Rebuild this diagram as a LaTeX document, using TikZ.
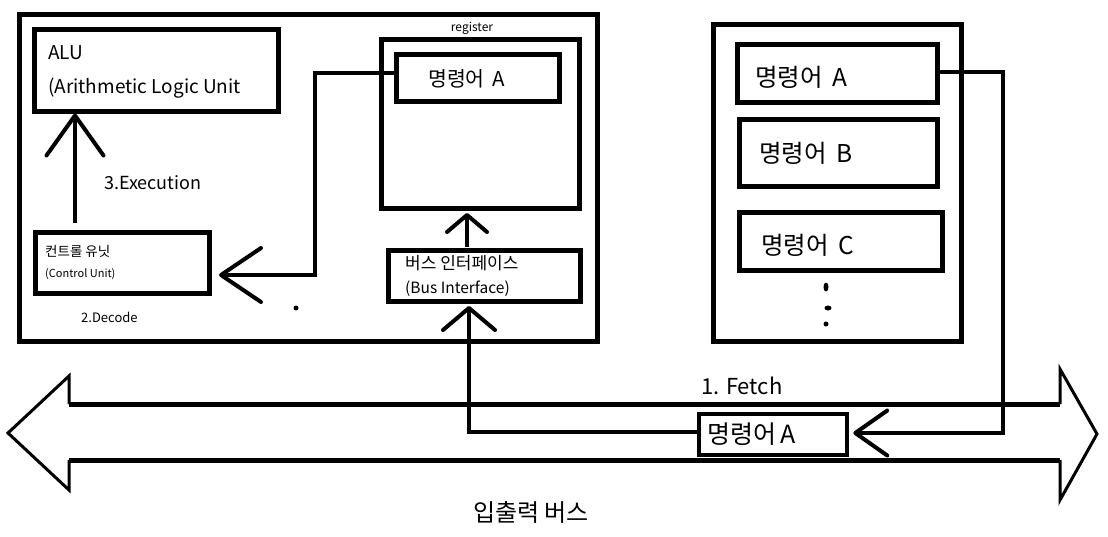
\documentclass[tikz,border=0pt]{standalone}
\usepackage{fontspec}
\setmainfont{Noto Sans CJK KR}
\usetikzlibrary{arrows.meta}
\newcommand\fsz[1]{\fontsize{#1}{#1}\selectfont}
\begin{document}
\begin{tikzpicture}[x=1pt,y=-1pt,
  box/.style={draw, line width=5pt, inner sep=0pt, rectangle},
  conn/.style={line width=4pt, line join=miter},
  lbl/.style={anchor=west, inner sep=0pt},
  busline/.style={line width=5pt},
  bushead/.style={line width=3pt, line join=miter}]
\useasboundingbox (0,0) rectangle (1108,536);
\fill[white] (0,0) rectangle (1108,536);

% CPU
\node[box, minimum width=578pt, minimum height=327pt] (cpu) at (308,177.5) {};
\node[box, minimum width=244pt, minimum height=82pt] (alu) at (156,70) {};
\node[box, minimum width=198pt, minimum height=169pt] (reg) at (480,123.5) {};
\node[box, minimum width=163pt, minimum height=47pt] (regA) at (477.5,77.5) {};
\node[box, minimum width=174pt, minimum height=61pt] (cu) at (122,262.5) {};
\node[box, minimum width=192pt, minimum height=51pt] (bi) at (484,275.5) {};

\node[lbl] (t1) at (48,53) {\fsz{19}ALU};
\node[lbl] (t2) at (48,88) {\fsz{19}(Arithmetic Logic Unit};
\node[lbl] (t3) at (104,183) {\fsz{18}3.Execution};
\node[lbl] (t4) at (45,251) {\fsz{13.5}컨트롤 유닛};
\node[lbl] (t5) at (45,274) {\fsz{11}(Control Unit)};
\node[lbl] (t6) at (81,317) {\fsz{13}2.Decode};
\node[inner sep=0pt] (t7) at (472,28) {\fsz{12}register};
\node[lbl] (t8) at (428,79) {\fsz{20.5}명령어\ \,A};
\node[lbl] (t9) at (405,263) {\fsz{17}버스 인터페이스};
\node[lbl] (t10) at (405,289) {\fsz{15.5}(Bus Interface)};

% memory
\node[box, minimum width=248pt, minimum height=317pt] (mem) at (837,182.5) {};
\node[box, minimum width=200pt, minimum height=58pt] (mA) at (837,73) {};
\node[box, minimum width=198pt, minimum height=67pt] (mB) at (838,152.5) {};
\node[box, minimum width=203pt, minimum height=58pt] (mC) at (840.5,241) {};
\node[lbl] (m1) at (755,77) {\fsz{24.5}명령어\ \,A};
\node[lbl] (m2) at (759,153) {\fsz{24.5}명령어\ \,B};
\node[lbl] (m3) at (761,245) {\fsz{24.5}명령어\ \,C};
\fill (826,287) ellipse (2.5pt and 4.5pt);
\fill (828,308) ellipse (3.5pt and 2.5pt);
\fill (826,324) circle (2.5pt);
\fill (296,308) circle (2.5pt);

% bus
\draw[busline] (69,404) -- (1060,404);
\draw[busline] (69,460) -- (1060,460);
\draw[bushead] (69,404) -- (69,376) -- (8,433) -- (69,490) -- (69,460);
\draw[bushead] (1060,404) -- (1060,369) -- (1097,434) -- (1060,500) -- (1060,460);
\node[box, line width=4.5pt, minimum width=148pt, minimum height=41pt] (busA) at (773,434.5) {};
\node[lbl] (b1) at (707,434) {\fsz{25}명령어\,A};
\node[lbl] (f1) at (701,386) {\fsz{22}1. Fetch};
\node[inner sep=0pt] (io) at (531,512) {\fsz{24}입출력 버스};

% connectors
\coordinate (e1) at (75,223);
\draw[conn, -{Straight Barb[length=40pt,width=57pt,line width=4pt,round]}] (e1) -- (alu.south -| e1);
\coordinate (c1) at (315,73);
\coordinate (cutip) at (219,275);
\draw[conn, -{Straight Barb[length=40pt,width=54pt,line width=4pt,round]}] (regA.west |- c1) -- (c1) -- (c1 |- cutip) -- (cutip);
\coordinate (b0) at (467,247);
\draw[conn, -{Straight Barb[length=17pt,width=40pt,line width=4pt,round]}] (b0) -- (467,213);
\coordinate (bv) at (469,432);
\draw[conn, -{Straight Barb[length=22pt,width=52pt,line width=4pt,round]}] (busA.west |- bv) -- (bv) -- (469,306);
\coordinate (r1) at (1003,72);
\coordinate (r2) at (1003,433);
\draw[conn, -{Straight Barb[length=32pt,width=45pt,line width=4pt,round]}] (mA.east |- r1) -- (r1) -- (r2) -- ([xshift=4pt]busA.east |- r2);
\end{tikzpicture}
\end{document}
